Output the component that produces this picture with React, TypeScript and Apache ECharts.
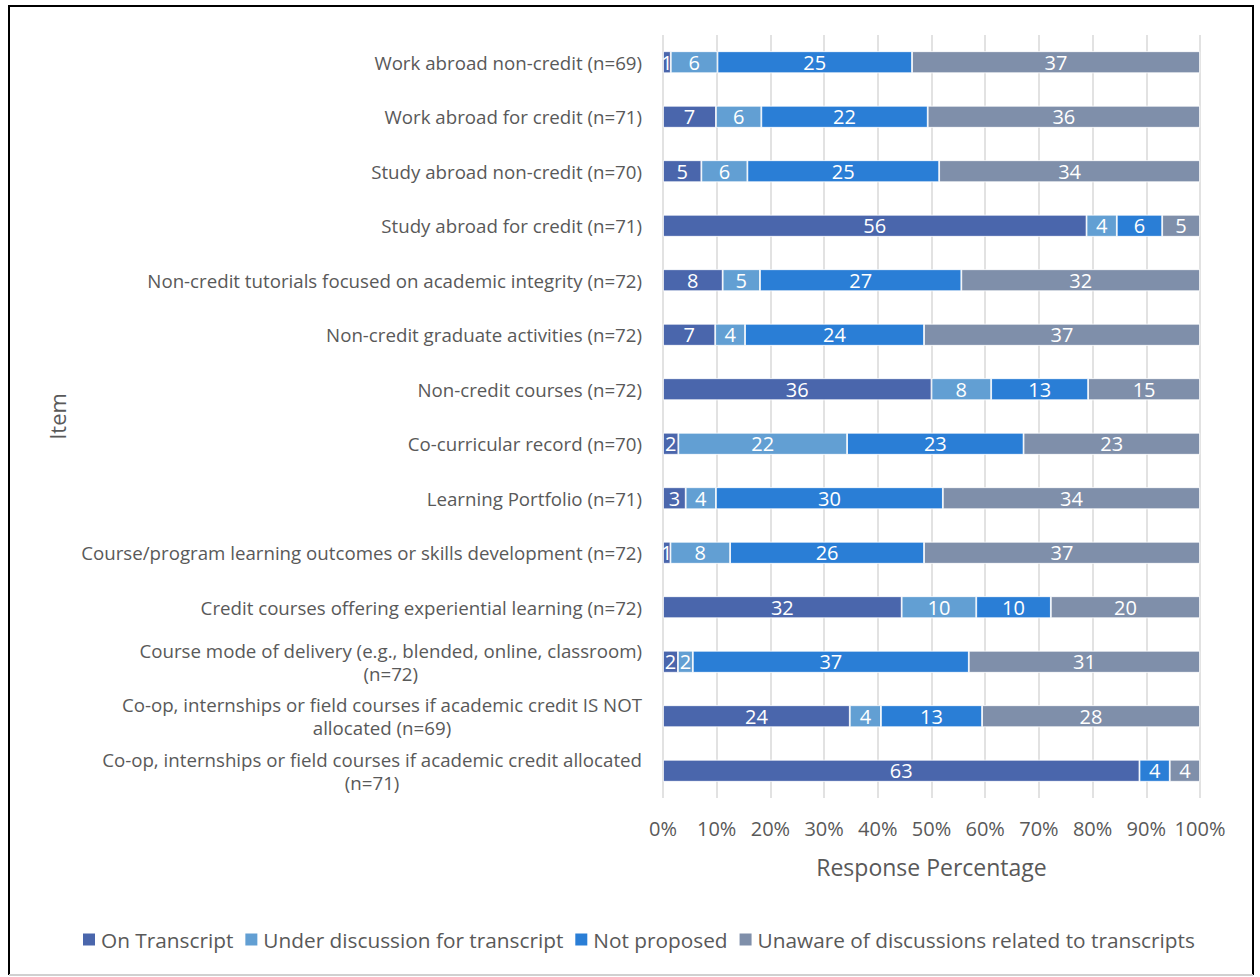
import React, { useEffect, useRef } from "react";
import * as echarts from "echarts";

const categories: string[] = [
  "Work abroad non-credit (n=69)",
  "Work abroad for credit (n=71)",
  "Study abroad non-credit (n=70)",
  "Study abroad for credit (n=71)",
  "Non-credit tutorials focused on academic integrity (n=72)",
  "Non-credit graduate activities (n=72)",
  "Non-credit courses (n=72)",
  "Co-curricular record (n=70)",
  "Learning Portfolio (n=71)",
  "Course/program learning outcomes or skills development (n=72)",
  "Credit courses offering experiential learning (n=72)",
  "Course mode of delivery (e.g., blended, online, classroom)\n(n=72)",
  "Co-op, internships or field courses if academic credit IS NOT\nallocated (n=69)",
  "Co-op, internships or field courses if academic credit allocated\n(n=71)",
];

const seriesNames: string[] = [
  "On Transcript",
  "Under discussion for transcript",
  "Not proposed",
  "Unaware of discussions related to transcripts",
];

const onTranscript: number[] = [1, 7, 5, 56, 8, 7, 36, 2, 3, 1, 32, 2, 24, 63];
const underDiscussion: number[] = [6, 6, 6, 4, 5, 4, 8, 22, 4, 8, 10, 2, 4, 0];
const notProposed: number[] = [25, 22, 25, 6, 27, 24, 13, 23, 30, 26, 10, 37, 13, 4];
const unaware: number[] = [37, 36, 34, 5, 32, 37, 15, 23, 34, 37, 20, 31, 28, 4];

const xTicks: number[] = [0, 10, 20, 30, 40, 50, 60, 70, 80, 90, 100];

const colors = ["#4a66ac", "#629fd3", "#2a7ed6", "#7f8faa"];
const FONT = "Open Sans";
const TEXT = "#595959";

export default function App() {
  const ref = useRef<HTMLDivElement>(null);
  useEffect(() => {
    if (!ref.current) return;
    const chart = echarts.init(ref.current, undefined, { renderer: "svg" });
    const counts = [onTranscript, underDiscussion, notProposed, unaware];
    const totals = categories.map((_, i) => counts.reduce((s, arr) => s + arr[i], 0));
    const series = counts.map((arr, si) => ({
      name: seriesNames[si],
      type: "bar",
      stack: "total",
      barWidth: 22,
      itemStyle: { color: colors[si], borderColor: "#ffffff", borderWidth: 0.8 },
      label: {
        show: true,
        position: "inside",
        color: "#ffffff",
        fontFamily: FONT,
        fontSize: 20,
        formatter: (p: any) => (arr[p.dataIndex] === 0 ? "" : String(arr[p.dataIndex])),
      },
      emphasis: { disabled: true },
      data: arr.map((c, i) => (c / totals[i]) * 100),
    }));

    chart.setOption({
      animation: false,
      textStyle: { fontFamily: FONT },
      grid: { left: 663, right: 60, top: 35, bottom: 179, containLabel: false },
      xAxis: {
        type: "value",
        min: xTicks[0],
        max: xTicks[xTicks.length - 1],
        interval: 10,
        axisLine: { show: false },
        axisTick: { show: false },
        splitLine: { show: true, lineStyle: { color: "#d9d9d9", width: 1.5 } },
        axisLabel: {
          formatter: "{value}%",
          color: TEXT,
          fontFamily: FONT,
          fontSize: 20,
          margin: 20,
        },
        name: "Response Percentage",
        nameLocation: "middle",
        nameGap: 57,
        nameTextStyle: { color: TEXT, fontFamily: FONT, fontSize: 23 },
      },
      yAxis: {
        type: "category",
        data: categories,
        inverse: true,
        axisLine: { show: false },
        axisTick: { show: false },
        splitLine: { show: false },
        axisLabel: {
          margin: 21,
          align: "right",
          color: TEXT,
          fontFamily: FONT,
          fontSize: 18.7,
          lineHeight: 23,
          formatter: (v: string) =>
            v
              .split("\n")
              .map((l) => "{c|" + l + "}")
              .join("\n"),
          rich: {
            c: {
              align: "center",
              color: TEXT,
              fontFamily: FONT,
              fontSize: 18.7,
              lineHeight: 23,
            },
          },
        },
        name: "Item",
        nameLocation: "middle",
        nameGap: 595,
        nameTextStyle: { color: TEXT, fontFamily: FONT, fontSize: 22 },
      },
      legend: {
        data: seriesNames,
        left: 76,
        top: 924,
        itemWidth: 14,
        itemHeight: 14,
        itemGap: 10,
        icon: "rect",
        textStyle: { color: TEXT, fontFamily: FONT, fontSize: 20.8 },
      },
      graphic: [
        { type: "line", shape: { x1: 9, y1: 6, x2: 1253, y2: 6 }, style: { stroke: "#000", lineWidth: 2 } },
        { type: "line", shape: { x1: 9, y1: 5, x2: 9, y2: 975 }, style: { stroke: "#000", lineWidth: 2 } },
        { type: "line", shape: { x1: 1253, y1: 5, x2: 1253, y2: 975 }, style: { stroke: "#000", lineWidth: 2 } },
        { type: "line", shape: { x1: 9, y1: 975, x2: 1253, y2: 975 }, style: { stroke: "#d0d0d0", lineWidth: 2 } },
      ],
      series,
    } as any);
    return () => chart.dispose();
  }, []);
  return (
    <div
      ref={ref}
      style={{ position: "absolute", left: 0, top: 0, width: 1260, height: 977, background: "#fff" }}
    />
  );
}
